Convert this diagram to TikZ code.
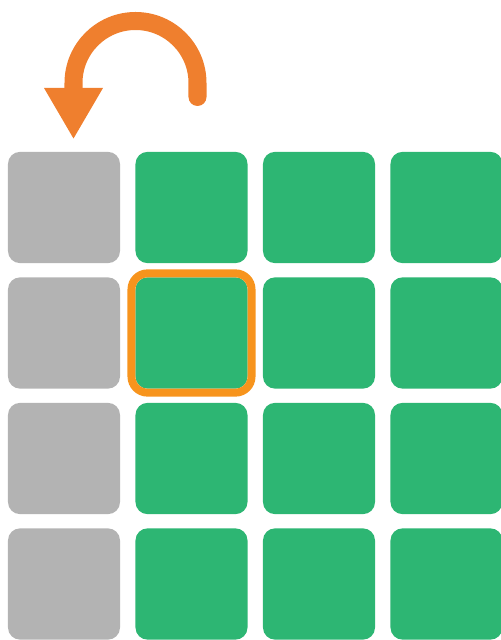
\documentclass[tikz,border=0pt]{standalone}
\usetikzlibrary{positioning}

\definecolor{cellgreen}{HTML}{2DB673}
\definecolor{cellgrey}{HTML}{B3B3B3}
\definecolor{turnorange}{HTML}{EF7F2E}
\definecolor{focusorange}{HTML}{F7941D}

\begin{document}
\begin{tikzpicture}[x=.025cm,y=.025cm,
  cell/.style={rectangle,minimum width=2.8cm,minimum height=2.78cm,inner sep=0pt,outer sep=0pt,rounded corners=.3cm,draw=none},
  free/.style={cell,fill=cellgrey},
  busy/.style={cell,fill=cellgreen},
  focus/.style={draw=focusorange,line width=.2cm,rounded corners=.4cm},
  turn/.style={draw=turnorange,line width=.45cm}]
\useasboundingbox (0,0) rectangle (501,640);
% first column
\node[free] (f1) at (64,432.5) {};
\node[free] (f2) at (64,307) {};
\node[free] (f3) at (64,181.5) {};
\node[free] (f4) at (64,56) {};
% the other columns
\node[busy] (c11) at (191.5,432.5) {};
\node[busy] (c12) at (319,432.5) {};
\node[busy] (c13) at (446.5,432.5) {};
\node[busy] (c21) at (191.5,307) {};
\node[busy] (c22) at (319,307) {};
\node[busy] (c23) at (446.5,307) {};
\node[busy] (c31) at (191.5,181.5) {};
\node[busy] (c32) at (319,181.5) {};
\node[busy] (c33) at (446.5,181.5) {};
\node[busy] (c41) at (191.5,56) {};
\node[busy] (c42) at (319,56) {};
\node[busy] (c43) at (446.5,56) {};
% highlighted cell
\draw[focus] ([shift={(-4,-4)}]c21.south west) rectangle ([shift={(4,4)}]c21.north east);
% arrow over the first column
\coordinate (start) at (197.5,543);
\coordinate (head) at (73.5,552);
\draw[turn,line cap=round] (start) -- (197.5,557) arc (0:180:62) -- (head);
\fill[turnorange] ([shift={(-29.5,0)}]head) -- ([shift={(29.5,0)}]head) -- ([shift={(0,-50.5)}]head) -- cycle;
\end{tikzpicture}
\end{document}
